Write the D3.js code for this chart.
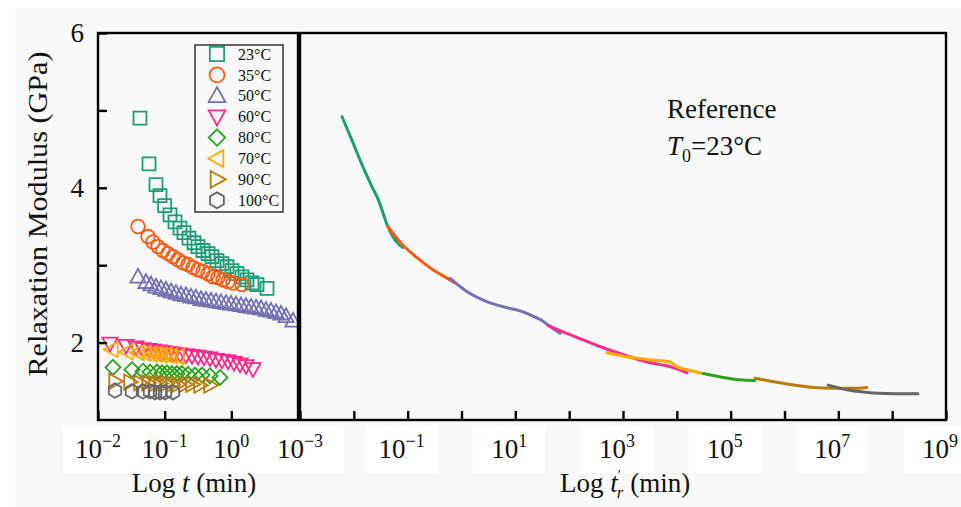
<!DOCTYPE html>
<html>
<head>
<meta charset="utf-8">
<script src="https://cdn.jsdelivr.net/npm/d3@7"></script>
<style>
  html, body { margin: 0; padding: 0; background: #ffffff; }
  svg { display: block; }
  text { font-family: "Liberation Serif", "Times New Roman", serif; fill: #111; }
</style>
</head>
<body>
<svg id="chart" width="961" height="507"></svg>
<script>
// Test temperatures, in legend order
const temperatures = ["23°C", "35°C", "50°C", "60°C", "80°C", "70°C", "90°C", "100°C"];

// Short-term relaxation tests: [log10 t (min), relaxation modulus (GPa)]
const test23 = [[-1.37,4.90],[-1.235,4.31],[-1.13,4.04],[-1.07,3.90],[-1.00,3.77],[-0.92,3.65],[-0.845,3.56],[-0.77,3.48],[-0.71,3.42],[-0.635,3.35],[-0.56,3.29],[-0.50,3.24],[-0.425,3.19],[-0.35,3.15],[-0.29,3.11],[-0.215,3.06],[-0.14,3.02],[-0.065,2.98],[0.01,2.93],[0.085,2.89],[0.16,2.85],[0.235,2.81],[0.31,2.77],[0.385,2.75],[0.535,2.70]];
const test35 = [[-1.40,3.50],[-1.25,3.37],[-1.175,3.30],[-1.10,3.24],[-1.025,3.19],[-0.95,3.15],[-0.875,3.11],[-0.80,3.07],[-0.725,3.03],[-0.65,3.01],[-0.575,2.97],[-0.50,2.94],[-0.425,2.92],[-0.35,2.89],[-0.275,2.85],[-0.20,2.84],[-0.125,2.81],[-0.05,2.79],[0.025,2.77],[0.16,2.75]];
const test50 = [[-1.40,2.85],[-1.28,2.78],[-1.205,2.75],[-1.13,2.72],[-1.055,2.70],[-0.98,2.68],[-0.905,2.66],[-0.83,2.64],[-0.755,2.62],[-0.68,2.61],[-0.605,2.59],[-0.53,2.58],[-0.455,2.56],[-0.38,2.55],[-0.305,2.54],[-0.23,2.53],[-0.155,2.52],[-0.08,2.51],[-0.005,2.50],[0.07,2.49],[0.145,2.48],[0.22,2.47],[0.295,2.46],[0.37,2.45],[0.445,2.44],[0.52,2.42],[0.595,2.41],[0.67,2.39],[0.745,2.37],[0.82,2.34],[0.925,2.28]];
const test60 = [[-1.82,1.99],[-1.58,1.96],[-1.43,1.94],[-1.325,1.92],[-1.235,1.91],[-1.16,1.90],[-1.085,1.89],[-1.01,1.88],[-0.935,1.87],[-0.86,1.86],[-0.77,1.85],[-0.68,1.84],[-0.59,1.83],[-0.50,1.82],[-0.41,1.81],[-0.32,1.80],[-0.23,1.78],[-0.14,1.77],[-0.05,1.76],[0.04,1.74],[0.13,1.72],[0.22,1.70],[0.325,1.66]];
const test80 = [[-1.775,1.68],[-1.49,1.65],[-1.325,1.63],[-1.22,1.62],[-1.115,1.62],[-1.04,1.61],[-0.965,1.61],[-0.89,1.60],[-0.815,1.60],[-0.74,1.60],[-0.65,1.59],[-0.545,1.58],[-0.44,1.58],[-0.32,1.57],[-0.17,1.55]];
const test70 = [[-1.79,1.91],[-1.565,1.88],[-1.40,1.87],[-1.295,1.86],[-1.205,1.85],[-1.13,1.85],[-1.055,1.84],[-0.98,1.84],[-0.905,1.83],[-0.80,1.82]];
const test90 = [[-1.745,1.50],[-1.52,1.49],[-1.37,1.48],[-1.25,1.48],[-1.145,1.47],[-1.07,1.47],[-0.98,1.47],[-0.89,1.46],[-0.80,1.46],[-0.695,1.46],[-0.59,1.46],[-0.47,1.45],[-0.32,1.45]];
const test100 = [[-1.745,1.38],[-1.49,1.37],[-1.325,1.37],[-1.22,1.37],[-1.145,1.36],[-1.07,1.36],[-0.995,1.36],[-0.875,1.36]];

// Shifted segments of the master curve: [log10 t'_r (min), relaxation modulus (GPa)]
const master23 = [[-2.22,4.92],[-2.015,4.58],[-1.83,4.27],[-1.66,4.01],[-1.53,3.82],[-1.48,3.72],[-1.38,3.52],[-1.24,3.33],[-1.09,3.23]];
const master35 = [[-1.37,3.50],[-1.09,3.26],[-0.83,3.10],[-0.53,2.94],[-0.21,2.81],[-0.12,2.77]];
const master50 = [[-0.21,2.83],[0.10,2.66],[0.47,2.53],[0.85,2.45],[1.09,2.41],[1.27,2.36],[1.46,2.30],[1.64,2.21],[1.83,2.12]];
const master60 = [[1.61,2.22],[1.92,2.13],[2.20,2.05],[2.57,1.95],[2.94,1.86],[3.45,1.75],[3.87,1.69],[4.19,1.61]];
const master70 = [[2.70,1.87],[3.13,1.81],[3.63,1.77],[3.87,1.75],[4.00,1.69],[4.25,1.64],[4.49,1.60]];
const master80 = [[4.49,1.60],[4.86,1.55],[5.17,1.52],[5.45,1.51]];
const master90 = [[5.45,1.54],[5.92,1.48],[6.53,1.42],[6.90,1.41],[7.37,1.41],[7.53,1.42]];
const master100 = [[6.81,1.45],[7.16,1.39],[7.64,1.35],[8.09,1.34],[8.48,1.34]];

// Axis ticks
const modulusTicks = [2, 3, 4, 5, 6];
const modulusLabels = [2, 4, 6];
const timeTickExps = [-2, -1, 0, 1];
const timeLabelExps = [-2, -1, 0];
const shiftedTickExps = [-3, -2, -1, 0, 1, 2, 3, 4, 5, 6, 7, 8, 9];
const shiftedLabelExps = [-3, -1, 1, 3, 5, 7, 9];

// Series styling
const style = {
  "23°C":  { color: "#1b9e77", shape: "square" },
  "35°C":  { color: "#fb5a12", shape: "circle" },
  "50°C":  { color: "#7570b3", shape: "triUp" },
  "60°C":  { color: "#fb2a8e", shape: "triDown" },
  "80°C":  { color: "#2aa41c", shape: "diamond" },
  "70°C":  { color: "#ffab00", shape: "triLeft" },
  "90°C":  { color: "#bd7a0c", shape: "triRight" },
  "100°C": { color: "#666666", shape: "hexagon" }
};
const tests = { "23°C": test23, "35°C": test35, "50°C": test50, "60°C": test60,
                "80°C": test80, "70°C": test70, "90°C": test90, "100°C": test100 };
const masters = [["23°C", master23], ["35°C", master35], ["50°C", master50], ["60°C", master60],
                 ["70°C", master70], ["80°C", master80], ["90°C", master90], ["100°C", master100]];

// Layout
const W = 961, H = 507;
const plotTop = 33, plotBottom = 420;
const leftX0 = 98, leftX1 = 298;
const rightX0 = 300, rightX1 = 946;
const FONT = 27;

const svg = d3.select("#chart");

svg.append("rect").attr("x", 15).attr("y", 8).attr("width", W - 15).attr("height", H - 8)
  .attr("fill", "#f9f9f9");

const y = d3.scaleLinear().domain([1, 6]).range([plotBottom, plotTop]);
const xL = d3.scaleLog().domain([1e-2, 1e1]).range([leftX0, leftX1]);
const xR = d3.scaleLog().domain([1e-3, 1e9]).range([rightX0, rightX1]);

// Label anchor for the shifted-time axis (labels sit slightly left of their ticks)
const rightLabelX = e => e === -3 ? xR(Math.pow(10, e)) : xR(Math.pow(10, e)) - 6;

// White plates behind the time tick labels
svg.append("rect").attr("x", 63).attr("y", 425).attr("width", 237).attr("height", 48).attr("fill", "#ffffff");
shiftedLabelExps.filter(e => e > -3).forEach(e => {
  svg.append("rect").attr("x", rightLabelX(e) - 36).attr("y", 425)
    .attr("width", 72).attr("height", 48).attr("fill", "#ffffff");
});
svg.append("rect").attr("x", 300).attr("y", 425).attr("width", 44).attr("height", 48).attr("fill", "#ffffff");

// Marker paths centred on the origin
function markerPath(shape, k) {
  const p = d3.path();
  if (shape === "square") { const r = 6.5 * k; p.rect(-r, -r, 2 * r, 2 * r); }
  else if (shape === "circle") { const r = 6.8 * k; p.moveTo(r, 0); p.arc(0, 0, r, 0, 2 * Math.PI); }
  else if (shape === "triUp") { const r = 8 * k; p.moveTo(0, -r); p.lineTo(r * 0.95, r * 0.72); p.lineTo(-r * 0.95, r * 0.72); p.closePath(); }
  else if (shape === "triDown") { const r = 8 * k; p.moveTo(0, r); p.lineTo(r * 0.95, -r * 0.72); p.lineTo(-r * 0.95, -r * 0.72); p.closePath(); }
  else if (shape === "triLeft") { const r = 8 * k; p.moveTo(-r, 0); p.lineTo(r * 0.72, -r * 0.95); p.lineTo(r * 0.72, r * 0.95); p.closePath(); }
  else if (shape === "triRight") { const r = 8 * k; p.moveTo(r, 0); p.lineTo(-r * 0.72, -r * 0.95); p.lineTo(-r * 0.72, r * 0.95); p.closePath(); }
  else if (shape === "diamond") { const r = 7.5 * k; p.moveTo(0, -r); p.lineTo(r, 0); p.lineTo(0, r); p.lineTo(-r, 0); p.closePath(); }
  else if (shape === "hexagon") {
    const r = 7.2 * k;
    for (let i = 0; i < 6; i++) {
      const a = -Math.PI / 2 + i * Math.PI / 3;
      if (i === 0) p.moveTo(r * Math.cos(a), r * Math.sin(a)); else p.lineTo(r * Math.cos(a), r * Math.sin(a));
    }
    p.closePath();
  }
  return p.toString();
}

// Left panel: raw test data
const gLeft = svg.append("g");
temperatures.forEach(t => {
  const s = style[t];
  gLeft.append("g").selectAll("path").data(tests[t]).join("path")
    .attr("transform", d => `translate(${xL(Math.pow(10, d[0]))},${y(d[1])})`)
    .attr("d", markerPath(s.shape, 1))
    .attr("fill", "none").attr("stroke", s.color).attr("stroke-width", 1.8);
});

// Right panel: master curve
const line = d3.line()
  .x(d => xR(Math.pow(10, d[0])))
  .y(d => y(d[1]))
  .curve(d3.curveMonotoneX);
masters.forEach(([t, data]) => {
  svg.append("path").datum(data).attr("d", line)
    .attr("fill", "none").attr("stroke", style[t].color)
    .attr("stroke-width", 3).attr("stroke-linecap", "round").attr("stroke-linejoin", "round");
});

// Axes with inward ticks
const tickStroke = 2.4;
const axLeftBottom = svg.append("g").attr("transform", `translate(0,${plotBottom})`)
  .call(d3.axisBottom(xL).tickValues(timeTickExps.map(e => Math.pow(10, e))).tickSizeInner(-9).tickSizeOuter(0).tickFormat(""));
const axRightBottom = svg.append("g").attr("transform", `translate(0,${plotBottom})`)
  .call(d3.axisBottom(xR).tickValues(shiftedTickExps.map(e => Math.pow(10, e))).tickSizeInner(-9).tickSizeOuter(0).tickFormat(""));
const axY = svg.append("g").attr("transform", `translate(${leftX0},0)`)
  .call(d3.axisLeft(y).tickValues(modulusTicks).tickSizeInner(-9).tickSizeOuter(0).tickFormat(""));
[axLeftBottom, axRightBottom, axY].forEach(a => {
  a.select(".domain").remove();
  a.selectAll(".tick line").attr("stroke", "#000").attr("stroke-width", tickStroke);
});

// Panel frames
svg.append("rect").attr("x", leftX0).attr("y", plotTop).attr("width", leftX1 - leftX0).attr("height", plotBottom - plotTop)
  .attr("fill", "none").attr("stroke", "#000").attr("stroke-width", 2.4);
svg.append("rect").attr("x", rightX0).attr("y", plotTop).attr("width", rightX1 - rightX0).attr("height", plotBottom - plotTop)
  .attr("fill", "none").attr("stroke", "#000").attr("stroke-width", 2.4);

// Tick labels
function powerLabel(x, e) {
  const t = svg.append("text").attr("x", x).attr("y", 458).attr("text-anchor", "middle")
    .attr("font-size", FONT);
  t.append("tspan").text("10");
  t.append("tspan").attr("dy", -11).attr("font-size", 18).text(e < 0 ? "\u2212" + Math.abs(e) : String(e));
}
timeLabelExps.forEach(e => powerLabel(xL(Math.pow(10, e)), e));
shiftedLabelExps.forEach(e => powerLabel(rightLabelX(e), e));

modulusLabels.forEach(v => {
  svg.append("text").attr("x", 84).attr("y", y(v)).attr("dy", "0.34em")
    .attr("text-anchor", "end").attr("font-size", FONT).text(v);
});

// Axis titles
svg.append("text").attr("transform", "translate(47,214) rotate(-90)")
  .attr("text-anchor", "middle").attr("font-size", 28)
  .attr("textLength", 325).attr("lengthAdjust", "spacingAndGlyphs")
  .text("Relaxation Modulus (GPa)");

const tl = svg.append("text").attr("x", 194).attr("y", 492).attr("text-anchor", "middle").attr("font-size", FONT);
tl.append("tspan").text("Log ");
tl.append("tspan").attr("font-style", "italic").text("t");
tl.append("tspan").text(" (min)");

// Shifted-time title: Log t'_r (min), prime above and subscript below the t
const tr = svg.append("text").attr("x", 560).attr("y", 492).attr("font-size", FONT);
tr.append("tspan").text("Log ");
tr.append("tspan").attr("font-style", "italic").text("t");
tr.append("tspan").attr("dx", 0).attr("dy", -12).attr("font-size", 14).text("\u2032");
tr.append("tspan").attr("font-style", "italic").attr("dx", -4).attr("dy", 18).attr("font-size", 17).text("r");
tr.append("tspan").attr("dy", -6).text(" (min)");

// Reference annotation
svg.append("text").attr("x", 667).attr("y", 118).attr("font-size", FONT).text("Reference");
const t0 = svg.append("text").attr("x", 667).attr("y", 155).attr("font-size", FONT);
t0.append("tspan").attr("font-style", "italic").text("T");
t0.append("tspan").attr("dy", 7).attr("font-size", 18).text("0");
t0.append("tspan").attr("dy", -7).text("=23°C");

// Legend
const lg = svg.append("g");
lg.append("rect").attr("x", 195).attr("y", 45).attr("width", 88).attr("height", 167)
  .attr("fill", "#f9f9f9").attr("stroke", "#333").attr("stroke-width", 1.5);
temperatures.forEach((t, i) => {
  const cy = 54 + i * 20.9;
  lg.append("path").attr("transform", `translate(217,${cy})`)
    .attr("d", markerPath(style[t].shape, 1.1))
    .attr("fill", "none").attr("stroke", style[t].color).attr("stroke-width", 1.8);
  lg.append("text").attr("x", 238).attr("y", cy).attr("dy", "0.35em").attr("font-size", 16).text(t);
});
</script>
</body>
</html>
